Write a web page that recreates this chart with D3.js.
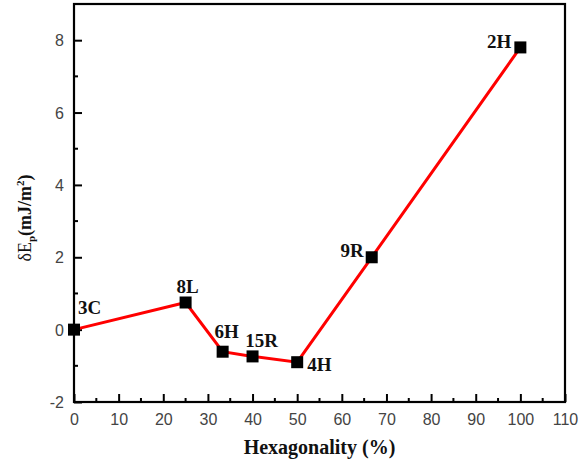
<!DOCTYPE html>
<html><head><meta charset="utf-8">
<script src="https://cdn.jsdelivr.net/npm/d3@7"></script>
<style>body{margin:0;background:#fff}svg{display:block}</style>
</head><body>
<svg id="c" width="585" height="464"></svg>
<script>
const labels = ["3C","8L","6H","15R","4H","9R","2H"];
const hexagonality = [0, 25, 33.3, 40, 50, 66.7, 100];
const deltaE = [0, 0.75, -0.61, -0.74, -0.9, 2.0, 7.8];
const xTicks = [0,10,20,30,40,50,60,70,80,90,100,110];
const yTicks = [-2,0,2,4,6,8];

const svg = d3.select("#c");
const L = 74, R = 565, T = 4, B = 402;
const x = d3.scaleLinear().domain([0,110]).range([L,R]);
const y = d3.scaleLinear().domain([-2,9]).range([B,T]);

const g = svg.append("g");
const xMinor = d3.range(5,110,10);
const yMinor = d3.range(-1,9,2);
g.selectAll(".xm").data(xMinor).join("line")
 .attr("x1",d=>x(d)).attr("x2",d=>x(d)).attr("y1",B).attr("y2",B-4)
 .attr("stroke","#000").attr("stroke-width",2);
g.selectAll(".ym").data(yMinor).join("line")
 .attr("y1",d=>y(d)).attr("y2",d=>y(d)).attr("x1",L).attr("x2",L+4)
 .attr("stroke","#000").attr("stroke-width",2);

const fmt = d => String(d);
const xAxis = d3.axisBottom(x).tickValues(xTicks).tickFormat(fmt).tickSizeInner(-8).tickSizeOuter(0).tickPadding(12);
const yAxis = d3.axisLeft(y).tickValues(yTicks).tickFormat(fmt).tickSizeInner(-8).tickSizeOuter(0).tickPadding(10);
const ax = svg.append("g").attr("transform",`translate(0,${B})`).call(xAxis);
const ay = svg.append("g").attr("transform",`translate(${L},0)`).call(yAxis);
[ax,ay].forEach(a=>{
  a.select(".domain").remove();
  a.selectAll(".tick line").attr("stroke","#000").attr("stroke-width",2);
  a.selectAll(".tick text").attr("font-family","Liberation Sans, Arial, sans-serif")
   .attr("font-size",16).attr("fill","#444");
});
ay.selectAll(".tick text").attr("dy","0.35em");

svg.append("rect").attr("x",L).attr("y",T).attr("width",R-L).attr("height",B-T)
 .attr("fill","none").attr("stroke","#000").attr("stroke-width",2.2);

const pts = hexagonality.map((h,i)=>({h, v:deltaE[i], l:labels[i]}));
svg.append("path").datum(pts)
 .attr("d", d3.line().x(d=>x(d.h)).y(d=>y(d.v)))
 .attr("fill","none").attr("stroke","#ff0000").attr("stroke-width",3);

const s = 12;
svg.selectAll(".pt").data(pts).join("rect")
 .attr("x",d=>x(d.h)-s/2).attr("y",d=>y(d.v)-s/2).attr("width",s).attr("height",s)
 .attr("fill","#000");

const off = {
  "3C":[4,-16,"start"], "8L":[2,-10,"middle"], "6H":[4,-14,"middle"], "15R":[9,-9,"middle"],
  "4H":[10,9,"start"], "9R":[-8,0,"end"], "2H":[-9,1,"end"]
};
svg.selectAll(".lb").data(pts).join("text")
 .attr("x",d=>x(d.h)+off[d.l][0]).attr("y",d=>y(d.v)+off[d.l][1])
 .attr("text-anchor",d=>off[d.l][2])
 .attr("font-family","Liberation Serif, Times New Roman, serif").attr("font-weight","bold")
 .attr("font-size",19).attr("fill","#111").text(d=>d.l);

svg.append("text").attr("x",(L+R)/2).attr("y",454).attr("text-anchor","middle")
 .attr("font-family","Liberation Serif, Times New Roman, serif").attr("font-weight","bold")
 .attr("font-size",20).attr("fill","#111").text("Hexagonality (%)");

const yt = svg.append("text").attr("transform","translate(31,218) rotate(-90)")
 .attr("text-anchor","middle")
 .attr("font-family","Liberation Serif, Times New Roman, serif").attr("font-weight","bold")
 .attr("font-size",18).attr("fill","#111");
yt.append("tspan").attr("font-weight","normal").text("δE");
yt.append("tspan").attr("font-size",11).attr("dy",4).text("p");
yt.append("tspan").attr("dy",-4).text("(mJ/m");
yt.append("tspan").attr("font-size",11).attr("dy",-7).text("2");
yt.append("tspan").attr("dy",7).text(")");
</script>
</body></html>
